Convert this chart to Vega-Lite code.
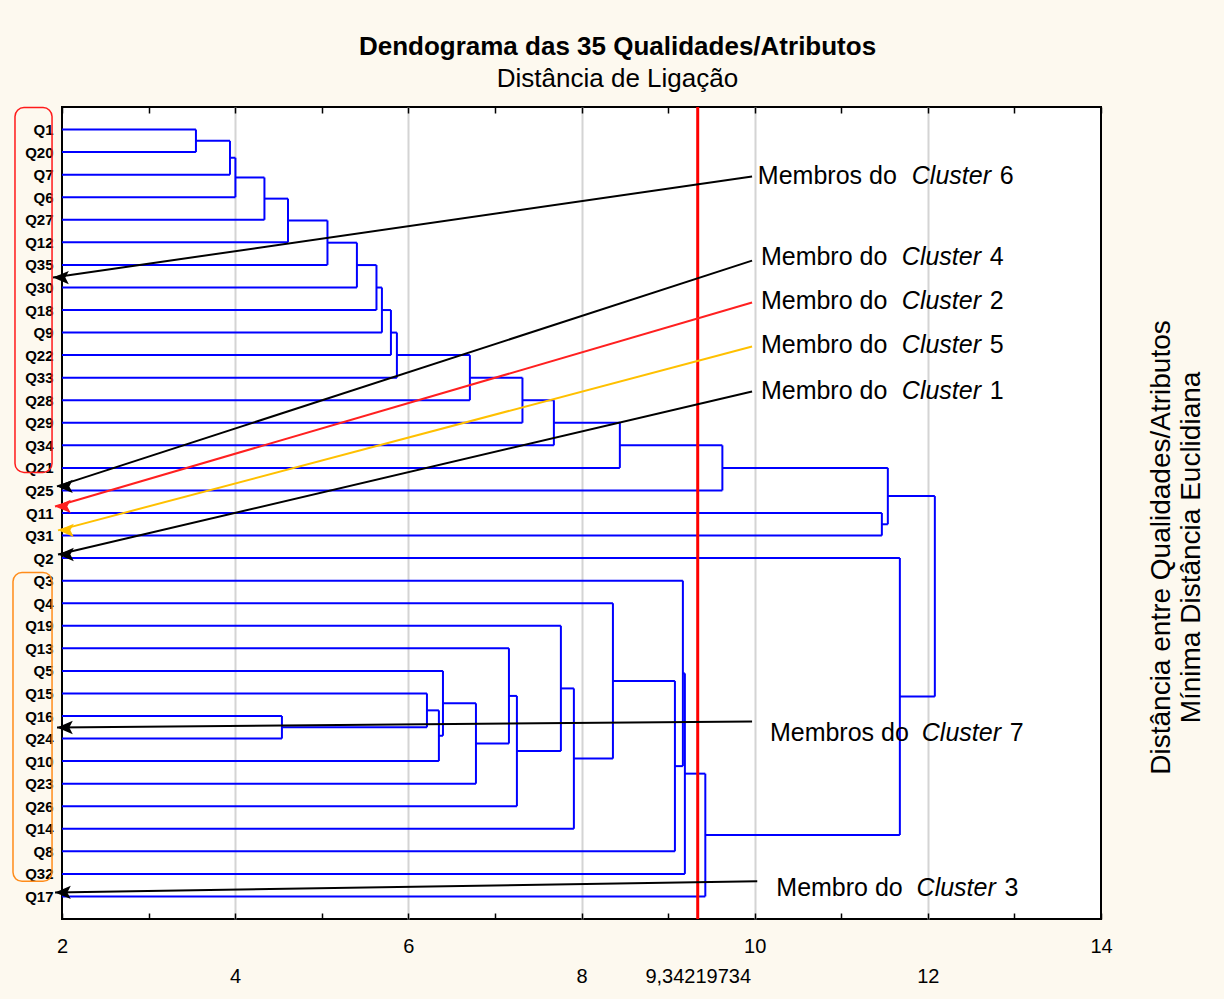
{
  "$schema": "https://vega.github.io/schema/vega-lite/v6.json",
  "width": 1039,
  "height": 812,
  "autosize": {"type": "none"},
  "padding": {"left": 62, "top": 107, "right": 123, "bottom": 80},
  "background": "#fdf9ef",
  "title": {
    "text": "Dendograma das 35 Qualidades/Atributos",
    "subtitle": "Distância de Ligação",
    "anchor": "middle",
    "dx": 36,
    "font": "Liberation Sans",
    "fontSize": 26,
    "fontWeight": "bold",
    "color": "black",
    "subtitleFont": "Liberation Sans",
    "subtitleFontSize": 26,
    "subtitleColor": "black",
    "subtitlePadding": 6,
    "offset": 14
  },
  "config": {
    "view": {"stroke": "black", "strokeWidth": 2, "fill": "white"},
    "font": "Liberation Sans"
  },
  "datasets": {
    "fusoes": [
      {"h": 3.547, "ha": 2, "ya": 0, "hb": 2, "yb": 1},
      {"h": 3.940, "ha": 3.547, "ya": 0.5, "hb": 2, "yb": 2},
      {"h": 4.003, "ha": 3.940, "ya": 1.25, "hb": 2, "yb": 3},
      {"h": 4.338, "ha": 4.003, "ya": 2.125, "hb": 2, "yb": 4},
      {"h": 4.610, "ha": 4.338, "ya": 3.0625, "hb": 2, "yb": 5},
      {"h": 5.066, "ha": 4.610, "ya": 4.03125, "hb": 2, "yb": 6},
      {"h": 5.406, "ha": 5.066, "ya": 5.015625, "hb": 2, "yb": 7},
      {"h": 5.632, "ha": 5.406, "ya": 6.0078, "hb": 2, "yb": 8},
      {"h": 5.695, "ha": 5.632, "ya": 7.0039, "hb": 2, "yb": 9},
      {"h": 5.799, "ha": 5.695, "ya": 8.002, "hb": 2, "yb": 10},
      {"h": 5.868, "ha": 5.799, "ya": 9.001, "hb": 2, "yb": 11},
      {"h": 6.711, "ha": 5.868, "ya": 10.0005, "hb": 2, "yb": 12},
      {"h": 7.318, "ha": 6.711, "ya": 11.0002, "hb": 2, "yb": 13},
      {"h": 7.681, "ha": 7.318, "ya": 12.0001, "hb": 2, "yb": 14},
      {"h": 8.443, "ha": 7.681, "ya": 13.0, "hb": 2, "yb": 15},
      {"h": 9.627, "ha": 8.443, "ya": 14.0, "hb": 2, "yb": 16},
      {"h": 11.469, "ha": 2, "ya": 17, "hb": 2, "yb": 18},
      {"h": 11.538, "ha": 9.627, "ya": 15.0, "hb": 11.469, "yb": 17.5},
      {"h": 4.540, "ha": 2, "ya": 26, "hb": 2, "yb": 27},
      {"h": 6.215, "ha": 2, "ya": 25, "hb": 4.540, "yb": 26.5},
      {"h": 6.353, "ha": 6.215, "ya": 25.75, "hb": 2, "yb": 28},
      {"h": 6.400, "ha": 2, "ya": 24, "hb": 6.353, "yb": 26.875},
      {"h": 6.781, "ha": 6.400, "ya": 25.4375, "hb": 2, "yb": 29},
      {"h": 7.162, "ha": 2, "ya": 23, "hb": 6.781, "yb": 27.2188},
      {"h": 7.254, "ha": 7.162, "ya": 25.1094, "hb": 2, "yb": 30},
      {"h": 7.762, "ha": 2, "ya": 22, "hb": 7.254, "yb": 27.5547},
      {"h": 7.912, "ha": 7.762, "ya": 24.7773, "hb": 2, "yb": 31},
      {"h": 8.363, "ha": 2, "ya": 21, "hb": 7.912, "yb": 27.8887},
      {"h": 9.079, "ha": 8.363, "ya": 24.4443, "hb": 2, "yb": 32},
      {"h": 9.171, "ha": 2, "ya": 20, "hb": 9.079, "yb": 28.2222},
      {"h": 9.194, "ha": 9.171, "ya": 24.1111, "hb": 2, "yb": 33},
      {"h": 9.430, "ha": 9.194, "ya": 28.5556, "hb": 2, "yb": 34},
      {"h": 11.677, "ha": 2, "ya": 19, "hb": 9.430, "yb": 31.2778},
      {"h": 12.081, "ha": 11.538, "ya": 16.25, "hb": 11.677, "yb": 25.1389}
    ],
    "setas": [
      {"cluster": "6", "x1": 9.97, "y1": 2.08, "x2": 1.896, "y2": 6.56},
      {"cluster": "4", "x1": 9.97, "y1": 5.81, "x2": 1.942, "y2": 15.82},
      {"cluster": "2", "x1": 9.97, "y1": 7.67, "x2": 1.919, "y2": 16.71},
      {"cluster": "5", "x1": 9.97, "y1": 9.62, "x2": 1.954, "y2": 17.77},
      {"cluster": "1", "x1": 9.97, "y1": 11.61, "x2": 1.954, "y2": 18.84},
      {"cluster": "7", "x1": 9.97, "y1": 26.24, "x2": 1.942, "y2": 26.51},
      {"cluster": "3", "x1": 10.03, "y1": 33.33, "x2": 1.919, "y2": 33.82}
    ],
    "rotulos": [
      {"cluster": "6", "prefixo": "Membros do", "num": "6", "xp": 10.037, "xc": 11.815, "yt": 2.04},
      {"cluster": "4", "prefixo": "Membro do", "num": "4", "xp": 10.072, "xc": 11.70, "yt": 5.63},
      {"cluster": "2", "prefixo": "Membro do", "num": "2", "xp": 10.072, "xc": 11.70, "yt": 7.62},
      {"cluster": "5", "prefixo": "Membro do", "num": "5", "xp": 10.072, "xc": 11.70, "yt": 9.57},
      {"cluster": "1", "prefixo": "Membro do", "num": "1", "xp": 10.072, "xc": 11.70, "yt": 11.57},
      {"cluster": "7", "prefixo": "Membros do", "num": "7", "xp": 10.176, "xc": 11.93, "yt": 26.77},
      {"cluster": "3", "prefixo": "Membro do", "num": "3", "xp": 10.25, "xc": 11.87, "yt": 33.64}
    ],
    "grupos": [
      {"grupo": "6", "x1": 1.457, "x2": 1.885, "y1": -0.975, "y2": 15.2},
      {"grupo": "7", "x1": 1.434, "x2": 1.885, "y1": 19.64, "y2": 33.33}
    ],
    "corte": [{"distancia": 9.34219734}]
  },
  "layer": [
    {
      "data": {"name": "fusoes"},
      "mark": {"type": "rule", "color": "#0000ff", "strokeWidth": 2},
      "encoding": {
        "x": {
          "field": "ha", "type": "quantitative",
          "scale": {"domain": [2, 14], "nice": false, "zero": false},
          "axis": {
            "orient": "bottom",
            "values": [2, 3, 4, 5, 6, 7, 8, 9, 9.34219734, 10, 11, 12, 13, 14],
            "title": null,
            "domain": false,
            "tickSize": -6,
            "tickColor": "black",
            "tickWidth": 1.5,
            "tickOpacity": {"condition": {"test": "abs(datum.value - 9.34219734) < 0.001", "value": 0}, "value": 1},
            "labelExpr": "datum.value == 2 || datum.value == 4 || datum.value == 6 || datum.value == 8 || datum.value == 10 || datum.value == 12 || datum.value == 14 ? datum.label : (abs(datum.value - 9.34219734) < 0.001 ? '9,34219734' : '')",
            "labelFont": "Liberation Sans",
            "labelFontSize": 20,
            "labelColor": "black",
            "labelBaseline": "top",
            "labelPadding": {"condition": {"test": "datum.value == 4 || datum.value == 8 || datum.value == 12 || abs(datum.value - 9.34219734) < 0.001", "value": 53}, "value": 23},
            "labelOverlap": false,
            "labelFlush": false,
            "labelBound": false,
            "grid": true,
            "gridColor": "#d4d4d4",
            "gridWidth": 2,
            "gridOpacity": {"condition": {"test": "datum.value == 4 || datum.value == 6 || datum.value == 8 || datum.value == 10 || datum.value == 12", "value": 1}, "value": 0}
          }
        },
        "x2": {"field": "h"},
        "y": {
          "field": "ya", "type": "quantitative",
          "scale": {"domain": [-1, 35], "reverse": true, "nice": false, "zero": false},
          "axis": {
            "orient": "left",
            "values": [0, 1, 2, 3, 4, 5, 6, 7, 8, 9, 10, 11, 12, 13, 14, 15, 16, 17, 18, 19, 20, 21, 22, 23, 24, 25, 26, 27, 28, 29, 30, 31, 32, 33, 34],
            "labelExpr": "['Q1','Q20','Q7','Q6','Q27','Q12','Q35','Q30','Q18','Q9','Q22','Q33','Q28','Q29','Q34','Q21','Q25','Q11','Q31','Q2','Q3','Q4','Q19','Q13','Q5','Q15','Q16','Q24','Q10','Q23','Q26','Q14','Q8','Q32','Q17'][datum.value]",
            "title": null,
            "domain": false,
            "ticks": false,
            "grid": false,
            "labelFont": "Liberation Sans",
            "labelFontSize": 15,
            "labelFontWeight": "bold",
            "labelColor": "black",
            "labelPadding": 9,
            "labelOverlap": false
          }
        }
      }
    },
    {
      "data": {"name": "fusoes"},
      "mark": {"type": "rule", "color": "#0000ff", "strokeWidth": 2},
      "encoding": {
        "x": {"field": "hb", "type": "quantitative", "axis": null},
        "x2": {"field": "h"},
        "y": {"field": "yb", "type": "quantitative", "axis": null}
      }
    },
    {
      "data": {"name": "fusoes"},
      "mark": {"type": "rule", "color": "#0000ff", "strokeWidth": 2},
      "encoding": {
        "x": {
          "field": "h", "type": "quantitative",
          "axis": {
            "orient": "top",
            "values": [2, 3, 4, 5, 6, 7, 8, 9, 10, 11, 12, 13, 14],
            "labels": false,
            "title": null,
            "domain": false,
            "grid": false,
            "tickSize": -6,
            "tickColor": "black",
            "tickWidth": 1.5
          }
        },
        "y": {
          "field": "ya", "type": "quantitative",
          "axis": {
            "orient": "right",
            "labels": false,
            "ticks": false,
            "domain": false,
            "grid": false,
            "title": ["Distância entre Qualidades/Atributos", "Mínima Distância Euclidiana"],
            "titleAngle": 270,
            "titleFont": "Liberation Sans",
            "titleFontSize": 28,
            "titleLineHeight": 30,
            "titleFontWeight": "normal",
            "titleColor": "black",
            "titlePadding": 44,
            "titleY": 440
          }
        },
        "y2": {"field": "yb"}
      }
    },
    {
      "data": {"name": "corte"},
      "mark": {"type": "rule", "color": "#ff0000", "strokeWidth": 3},
      "encoding": {
        "x": {"field": "distancia", "type": "quantitative", "axis": null}
      }
    },
    {
      "data": {"name": "grupos"},
      "mark": {"type": "rect", "fillOpacity": 0, "strokeWidth": 1.5, "cornerRadius": 9},
      "encoding": {
        "x": {"field": "x1", "type": "quantitative", "axis": null},
        "x2": {"field": "x2"},
        "y": {"field": "y1", "type": "quantitative", "axis": null},
        "y2": {"field": "y2"},
        "stroke": {"field": "grupo", "type": "nominal", "scale": {"domain": ["6", "7"], "range": ["#ff1a1a", "#ff8c1a"]}, "legend": null}
      }
    },
    {
      "data": {"name": "setas"},
      "mark": {"type": "rule", "strokeWidth": 2},
      "encoding": {
        "x": {"field": "x1", "type": "quantitative", "axis": null},
        "x2": {"field": "x2"},
        "y": {"field": "y1", "type": "quantitative", "axis": null},
        "y2": {"field": "y2"},
        "color": {"field": "cluster", "type": "nominal", "scale": {"domain": ["6", "4", "2", "5", "1", "7", "3"], "range": ["black", "black", "#ff2020", "#ffc000", "black", "black", "black"]}, "legend": null}
      }
    },
    {
      "data": {"name": "setas"},
      "mark": {"type": "point", "shape": "M0,0 L1,-0.42 L0.78,0 L1,0.42 Z", "size": 1000, "filled": true, "opacity": 1, "strokeWidth": 0},
      "encoding": {
        "x": {"field": "x2", "type": "quantitative", "axis": null},
        "y": {"field": "y2", "type": "quantitative", "axis": null},
        "color": {"field": "cluster", "type": "nominal", "legend": null}
      }
    },
    {
      "data": {"name": "rotulos"},
      "mark": {"type": "text", "align": "left", "baseline": "middle", "font": "Liberation Sans", "fontSize": 25, "color": "black"},
      "encoding": {
        "x": {"field": "xp", "type": "quantitative", "axis": null},
        "y": {"field": "yt", "type": "quantitative", "axis": null},
        "text": {"field": "prefixo"}
      }
    },
    {
      "data": {"name": "rotulos"},
      "mark": {"type": "text", "align": "left", "baseline": "middle", "font": "Liberation Sans", "fontSize": 25, "fontStyle": "italic", "color": "black"},
      "encoding": {
        "x": {"field": "xc", "type": "quantitative", "axis": null},
        "y": {"field": "yt", "type": "quantitative", "axis": null},
        "text": {"value": "Cluster"}
      }
    },
    {
      "data": {"name": "rotulos"},
      "mark": {"type": "text", "align": "left", "baseline": "middle", "font": "Liberation Sans", "fontSize": 25, "dx": 88, "color": "black"},
      "encoding": {
        "x": {"field": "xc", "type": "quantitative", "axis": null},
        "y": {"field": "yt", "type": "quantitative", "axis": null},
        "text": {"field": "num"}
      }
    }
  ],
  "resolve": {"axis": {"x": "independent", "y": "independent"}}
}
